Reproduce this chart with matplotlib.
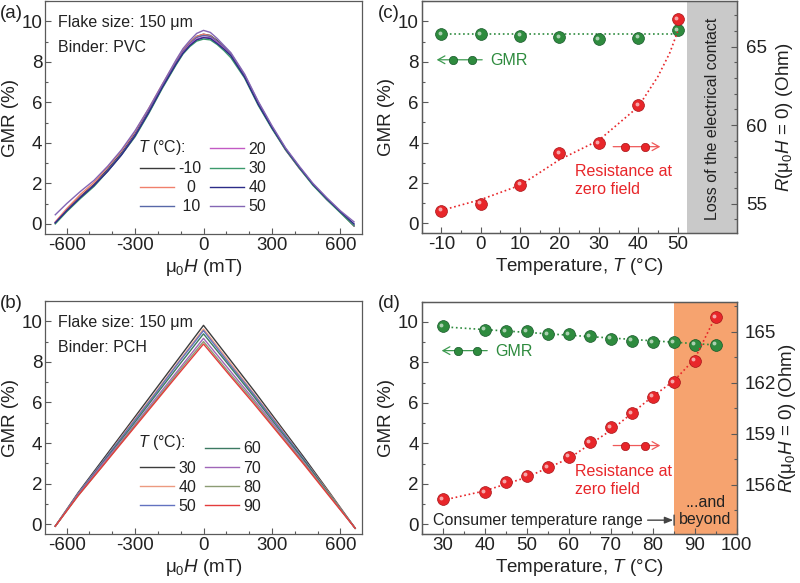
import matplotlib
matplotlib.use('Agg')
import matplotlib.pyplot as plt
from matplotlib.lines import Line2D
from matplotlib.patches import FancyArrowPatch
from matplotlib.legend_handler import HandlerBase
from matplotlib.transforms import offset_copy
from matplotlib.ticker import MultipleLocator, FixedLocator

plt.rcParams['font.family'] = ['Liberation Sans', 'DejaVu Sans']
plt.rcParams['mathtext.fontset'] = 'custom'
plt.rcParams['mathtext.rm'] = 'Liberation Sans'
plt.rcParams['mathtext.it'] = 'Liberation Sans:italic'
plt.rcParams['mathtext.bf'] = 'Liberation Sans:bold'
plt.rcParams['axes.unicode_minus'] = False

# ---- (a) GMR(H), PVC binder ----
field_a = [-650, -600, -540, -480, -420, -360, -300, -240, -180, -120, -90, -60, -30, 0,
           30, 60, 90, 120, 180, 240, 300, 360, 420, 480, 540, 600, 660]
temps_a = ['-10', '0', '10', '20', '30', '40', '50']
gmr_a_m10 = [0.05, 0.7, 1.35, 1.95, 2.7, 3.5, 4.45, 5.6, 6.85, 8.0, 8.55, 8.95, 9.25, 9.36, 9.3, 9.05, 8.75, 8.4, 7.35, 6.0, 4.8, 3.7, 2.8, 1.95, 1.25, 0.6, -0.1]
gmr_a_0 = [0.1, 0.75, 1.45, 2.05, 2.8, 3.6, 4.55, 5.7, 6.9, 8.05, 8.6, 8.95, 9.25, 9.36, 9.28, 9.0, 8.7, 8.35, 7.3, 5.95, 4.75, 3.65, 2.75, 1.95, 1.25, 0.6, -0.1]
gmr_a_10 = [0.05, 0.65, 1.3, 1.9, 2.65, 3.45, 4.4, 5.55, 6.8, 7.95, 8.5, 8.9, 9.2, 9.3, 9.25, 9.0, 8.7, 8.35, 7.3, 5.95, 4.75, 3.7, 2.8, 1.95, 1.25, 0.6, -0.05]
gmr_a_20 = [0.05, 0.65, 1.3, 1.9, 2.6, 3.4, 4.35, 5.5, 6.75, 7.9, 8.45, 8.85, 9.12, 9.22, 9.18, 8.95, 8.65, 8.3, 7.25, 5.9, 4.75, 3.65, 2.75, 1.95, 1.2, 0.6, -0.1]
gmr_a_30 = [0.0, 0.6, 1.25, 1.85, 2.6, 3.4, 4.3, 5.45, 6.7, 7.85, 8.38, 8.75, 9.02, 9.12, 9.08, 8.85, 8.55, 8.2, 7.2, 5.85, 4.7, 3.65, 2.75, 1.9, 1.2, 0.55, -0.1]
gmr_a_40 = [0.05, 0.65, 1.3, 1.9, 2.6, 3.4, 4.35, 5.5, 6.75, 7.9, 8.42, 8.8, 9.08, 9.19, 9.15, 8.9, 8.62, 8.3, 7.25, 5.9, 4.75, 3.7, 2.8, 1.95, 1.25, 0.6, 0.0]
gmr_a_50 = [0.45, 1.0, 1.6, 2.15, 2.85, 3.65, 4.6, 5.7, 6.9, 8.1, 8.65, 9.05, 9.4, 9.55, 9.45, 9.15, 8.8, 8.45, 7.4, 6.05, 4.85, 3.75, 2.85, 2.0, 1.3, 0.65, 0.1]
curves_a = [gmr_a_m10, gmr_a_0, gmr_a_10, gmr_a_20, gmr_a_30, gmr_a_40, gmr_a_50]
colors_a = ['#3a3a3a', '#f0806c', '#5868a8', '#c25ac4', '#3c9a6c', '#2c2c88', '#8466b4']

# ---- (b) GMR(H), PCH binder ----
field_b = [-650, -550, -440, -330, -220, -110, 0, 110, 220, 330, 440, 550, 665]
temps_b = ['30', '40', '50', '60', '70', '80', '90']
gmr_b_30 = [-0.1, 1.55, 3.2, 4.85, 6.5, 8.15, 9.8, 8.2, 6.6, 4.95, 3.3, 1.6, -0.2]
gmr_b_40 = [-0.1, 1.5, 3.1, 4.75, 6.35, 8.0, 9.62, 8.05, 6.45, 4.85, 3.2, 1.55, -0.2]
gmr_b_50 = [-0.1, 1.5, 3.1, 4.7, 6.3, 7.95, 9.54, 7.95, 6.4, 4.8, 3.2, 1.5, -0.2]
gmr_b_60 = [-0.1, 1.45, 3.05, 4.6, 6.2, 7.8, 9.38, 7.85, 6.3, 4.7, 3.15, 1.5, -0.2]
gmr_b_70 = [-0.1, 1.45, 3.0, 4.5, 6.05, 7.6, 9.16, 7.65, 6.15, 4.6, 3.05, 1.45, -0.2]
gmr_b_80 = [-0.1, 1.4, 2.9, 4.45, 5.95, 7.5, 9.0, 7.5, 6.05, 4.5, 3.0, 1.45, -0.2]
gmr_b_90 = [-0.1, 1.4, 2.9, 4.4, 5.9, 7.4, 8.88, 7.4, 5.95, 4.45, 2.95, 1.4, -0.2]
curves_b = [gmr_b_30, gmr_b_40, gmr_b_50, gmr_b_60, gmr_b_70, gmr_b_80, gmr_b_90]
colors_b = ['#3c3c3c', '#ec9a80', '#6272c0', '#3c7a62', '#a066b8', '#8c9c74', '#e43c3c']

# ---- (c) PVC vs temperature ----
temp_c = [-10, 0, 10, 20, 30, 40, 50]
gmr_c = [9.36, 9.36, 9.29, 9.22, 9.12, 9.19, 9.55]
res_c = [54.53, 55.0, 56.2, 58.2, 58.85, 61.27, 66.74]
gmr_fit_c_t = [-10, 50]
gmr_fit_c = [9.36, 9.36]
res_fit_c_t = [-10, 0, 10, 20, 30, 40, 45, 48, 50]
res_fit_c = [54.57, 55.26, 56.17, 57.8, 59.04, 61.17, 63.1, 64.6, 65.96]

# ---- (d) PCH vs temperature ----
temp_d = [30, 40, 45, 50, 55, 60, 65, 70, 75, 80, 85, 90, 95]
gmr_d = [9.79, 9.62, 9.54, 9.54, 9.38, 9.38, 9.29, 9.16, 9.08, 9.0, 9.0, 8.88, 8.88]
res_d = [155.16, 155.57, 156.16, 156.55, 157.04, 157.66, 158.5, 159.39, 160.21, 161.19, 162.03, 163.3, 165.84]
gmr_fit_d_t = [30, 95]
gmr_fit_d = [9.76, 8.86]
res_fit_d_t = [30, 40, 50, 60, 70, 80, 85, 90, 95]
res_fit_d = [155.1, 155.65, 156.45, 157.55, 159.2, 161.2, 162.1, 163.4, 165.9]

GREEN = '#2e8b3e'
GREEN_D = '#17582a'
RED = '#e8262a'
RED_D = '#a81418'
TXT = '#222222'
SPINE = '#5a5a5a'
TS = 13.5

fig = plt.figure(figsize=(8, 5.83), dpi=100)


def style(ax, xmaj, xmin, ymaj, ymin):
    ax.xaxis.set_major_locator(MultipleLocator(xmaj))
    ax.xaxis.set_minor_locator(MultipleLocator(xmin))
    ax.yaxis.set_major_locator(MultipleLocator(ymaj))
    ax.yaxis.set_minor_locator(MultipleLocator(ymin))
    ax.tick_params(which='both', direction='in', colors=SPINE, labelcolor=TXT,
                   labelsize=TS, pad=2, top=False, right=False)
    ax.tick_params(which='major', length=4.5, width=0.8)
    ax.tick_params(which='minor', length=2.5, width=0.8)
    for s in ax.spines.values():
        s.set_color(SPINE)
        s.set_linewidth(0.9)


def style_right(ax, ymaj, ymin):
    ax.yaxis.set_major_locator(MultipleLocator(ymaj))
    ax.yaxis.set_minor_locator(MultipleLocator(ymin))
    ax.tick_params(which='both', direction='in', colors=SPINE, labelcolor=TXT,
                   labelsize=TS, pad=7)
    ax.tick_params(which='major', length=4.5, width=0.8)
    ax.tick_params(which='minor', length=2.5, width=0.8)
    for s in ax.spines.values():
        s.set_color(SPINE)
        s.set_linewidth(0.9)


def balls(ax, x, y, face, edge, z=4):
    ax.plot(x, y, 'o', ms=8.5, mfc=face, mec=edge, mew=0.5, ls='none', zorder=z)
    hl = offset_copy(ax.transData, fig=fig, x=-1.6, y=1.6, units='dots')
    ax.plot(x, y, 'o', ms=2.8, mfc='white', mec='none', alpha=0.6, ls='none',
            transform=hl, zorder=z)


class BallKey(HandlerBase):
    def __init__(self, direction, face, edge, line):
        super().__init__()
        self.direction = direction
        self.face = face
        self.edge = edge
        self.line = line

    def create_artists(self, legend, orig_handle, xdescent, ydescent, width,
                       height, fontsize, trans):
        y = height / 2 - ydescent
        x0 = -xdescent
        x1 = x0 + width
        if self.direction == 'left':
            tail, head = (x1, y), (x0, y)
            bx = [x0 + 0.35 * width, x0 + 0.78 * width]
        else:
            tail, head = (x0, y), (x1, y)
            bx = [x0 + 0.24 * width, x0 + 0.67 * width]
        arr = FancyArrowPatch(tail, head, arrowstyle='->,head_length=5,head_width=2.8',
                              mutation_scale=1, lw=0.9, color=self.line,
                              shrinkA=0, shrinkB=0, transform=trans)
        b = Line2D(bx, [y, y], ls='none', marker='o', ms=6, mfc=self.face,
                   mec=self.edge, mew=0.5, transform=trans)
        return [arr, b]


def field_panel(rect, field, curves, colors, labels, binder, legend_y, head_y):
    ax = fig.add_axes(rect)
    for yv, c in zip(curves, colors):
        ax.plot(field, yv, color=c, lw=1.0)
    ax.set_xlim(-695, 695)
    ax.set_ylim(-0.5, 11)
    style(ax, 300, 100, 2, 1)
    ax.set_xlabel('μ$_0$$H$ (mT)', fontsize=TS, color=TXT, labelpad=2)
    ax.set_ylabel('GMR (%)', fontsize=TS, color=TXT, labelpad=2)
    ax.text(0.041, 0.908, 'Flake size: 150 μm', transform=ax.transAxes, fontsize=11.5,
            color=TXT, va='center')
    ax.text(0.041, 0.80, 'Binder: ' + binder, transform=ax.transAxes, fontsize=11.5,
            color=TXT, va='center')
    hs = [Line2D([], [], color='none')] + [Line2D([], [], color=c, lw=1.0) for c in colors]
    ax.legend(hs, [''] + labels, ncol=2, loc='upper left', bbox_to_anchor=(0.30, legend_y),
              frameon=False, fontsize=11.5, handlelength=2.1, handletextpad=0.3,
              columnspacing=0.55, labelspacing=0.26, borderpad=0, borderaxespad=0,
              labelcolor=TXT)
    ax.text(0.293, head_y, '$T$ (°C):', transform=ax.transAxes, fontsize=11.5,
            color=TXT, va='center')
    return ax


axa = field_panel([0.05625, 0.5986, 0.39625, 0.3997], field_a, curves_a, colors_a,
                  ['-10', '  0', ' 10'] + temps_a[3:], 'PVC', 0.395, 0.372)
axb = field_panel([0.05625, 0.0835, 0.39625, 0.4002], field_b, curves_b, colors_b,
                  temps_b, 'PCH', 0.398, 0.392)

# panel (c)
axc = fig.add_axes([0.5271, 0.5995, 0.39375, 0.3985])
axc.axvspan(52.5, 65, color='#c9c9c9', lw=0, zorder=0)
axc.plot(gmr_fit_c_t, gmr_fit_c, ls=':', color=GREEN, lw=1.2, zorder=3)
balls(axc, temp_c, gmr_c, GREEN, GREEN_D, z=6)
axc.set_xlim(-15, 65)
axc.set_ylim(-0.5, 11)
style(axc, 10, 5, 2, 1)
axc.xaxis.set_major_locator(FixedLocator(temp_c))
axc.xaxis.set_minor_locator(FixedLocator([-15, -5, 5, 15, 25, 35, 45]))
axc.set_xlabel('Temperature, $T$ (°C)', fontsize=TS, color=TXT, labelpad=2)
axc.set_ylabel('GMR (%)', fontsize=TS, color=TXT, labelpad=2)
axc2 = axc.twinx()
axc2.plot(res_fit_c_t, res_fit_c, ls=':', color=RED, lw=1.2, zorder=3)
balls(axc2, temp_c, res_c, RED, RED_D)
axc2.set_ylim(53.1, 67.9)
style_right(axc2, 5, 1)
axc2.set_ylabel('$R$(μ$_0$$H$ = 0) (Ohm)', fontsize=TS, color=TXT, labelpad=5)
axc.text(58.8, 5.2, 'Loss of the electrical contact', rotation=90, fontsize=11.5,
         color=TXT, ha='center', va='center')
lg = axc.legend([Line2D([], [])], ['GMR'], loc='center left',
                bbox_to_anchor=(0.0476, 0.743), frameon=False, fontsize=11.5,
                handlelength=2.85, handletextpad=0.5, borderpad=0, borderaxespad=0,
                labelcolor=GREEN,
                handler_map={Line2D: BallKey('left', GREEN, GREEN_D, '#3d9a50')})
lg.set_zorder(7)
axc2.legend([Line2D([], [])], [''], loc='center left',
            bbox_to_anchor=(0.608, 0.369), frameon=False, fontsize=11.5,
            handlelength=2.95, handletextpad=0, borderpad=0, borderaxespad=0,
            handler_map={Line2D: BallKey('right', RED, RED_D, '#ef5a5a')})
axc.text(0.487, 0.228, 'Resistance at\nzero field', transform=axc.transAxes,
         fontsize=11.5, color=RED, va='center', ha='left', linespacing=1.2)

# panel (d)
axd = fig.add_axes([0.5271, 0.0835, 0.39375, 0.399])
axd.axvspan(85, 100, color='#f6a36f', lw=0, zorder=0)
axd.plot(gmr_fit_d_t, gmr_fit_d, ls=':', color=GREEN, lw=1.2, zorder=3)
balls(axd, temp_d, gmr_d, GREEN, GREEN_D, z=6)
axd.set_xlim(25, 100)
axd.set_ylim(-0.5, 11)
style(axd, 10, 5, 2, 1)
axd.set_xlabel('Temperature, $T$ (°C)', fontsize=TS, color=TXT, labelpad=2)
axd.set_ylabel('GMR (%)', fontsize=TS, color=TXT, labelpad=2)
axd2 = axd.twinx()
axd2.plot(res_fit_d_t, res_fit_d, ls=':', color=RED, lw=1.2, zorder=3)
balls(axd2, temp_d, res_d, RED, RED_D)
axd2.set_ylim(153.1, 166.76)
style_right(axd2, 3, 1.5)
axd2.tick_params(pad=5.5)
axd2.set_ylabel('$R$(μ$_0$$H$ = 0) (Ohm)', fontsize=TS, color=TXT, labelpad=1)
lg = axd.legend([Line2D([], [])], ['GMR'], loc='center left',
                bbox_to_anchor=(0.0635, 0.785), frameon=False, fontsize=11.5,
                handlelength=2.85, handletextpad=0.5, borderpad=0, borderaxespad=0,
                labelcolor=GREEN,
                handler_map={Line2D: BallKey('left', GREEN, GREEN_D, '#3d9a50')})
lg.set_zorder(7)
axd2.legend([Line2D([], [])], [''], loc='center left',
            bbox_to_anchor=(0.608, 0.377), frameon=False, fontsize=11.5,
            handlelength=2.95, handletextpad=0, borderpad=0, borderaxespad=0,
            handler_map={Line2D: BallKey('right', RED, RED_D, '#ef5a5a')})
axd.text(0.487, 0.231, 'Resistance at\nzero field', transform=axd.transAxes,
         fontsize=11.5, color=RED, va='center', ha='left', linespacing=1.2)
axd.text(27.6, 0.2, 'Consumer temperature range', fontsize=11.5, color=TXT,
         ha='left', va='center')
axd.annotate('', xy=(84.9, 0.2), xytext=(78.8, 0.2),
             arrowprops=dict(arrowstyle='-|>,head_length=0.5,head_width=0.2',
                             color='#444444', lw=1.0, shrinkA=0, shrinkB=0))
axd.annotate('', xy=(85.1, -0.05), xytext=(85.1, 0.45),
             arrowprops=dict(arrowstyle='-', color='#444444', lw=1.0,
                             shrinkA=0, shrinkB=0))
axd.text(92.6, 0.65, '...and\nbeyond', fontsize=11.5, color=TXT, ha='center',
         va='center', linespacing=1.15)

# panel letters
for lab, x, y in [('(a)', 0.0, 0.976), ('(b)', 0.0, 0.48), ('(c)', 0.4725, 0.976),
                  ('(d)', 0.4725, 0.48)]:
    fig.text(x, y, lab, fontsize=TS, color=TXT, ha='left', va='center')

fig.savefig('out.png', dpi=100)
